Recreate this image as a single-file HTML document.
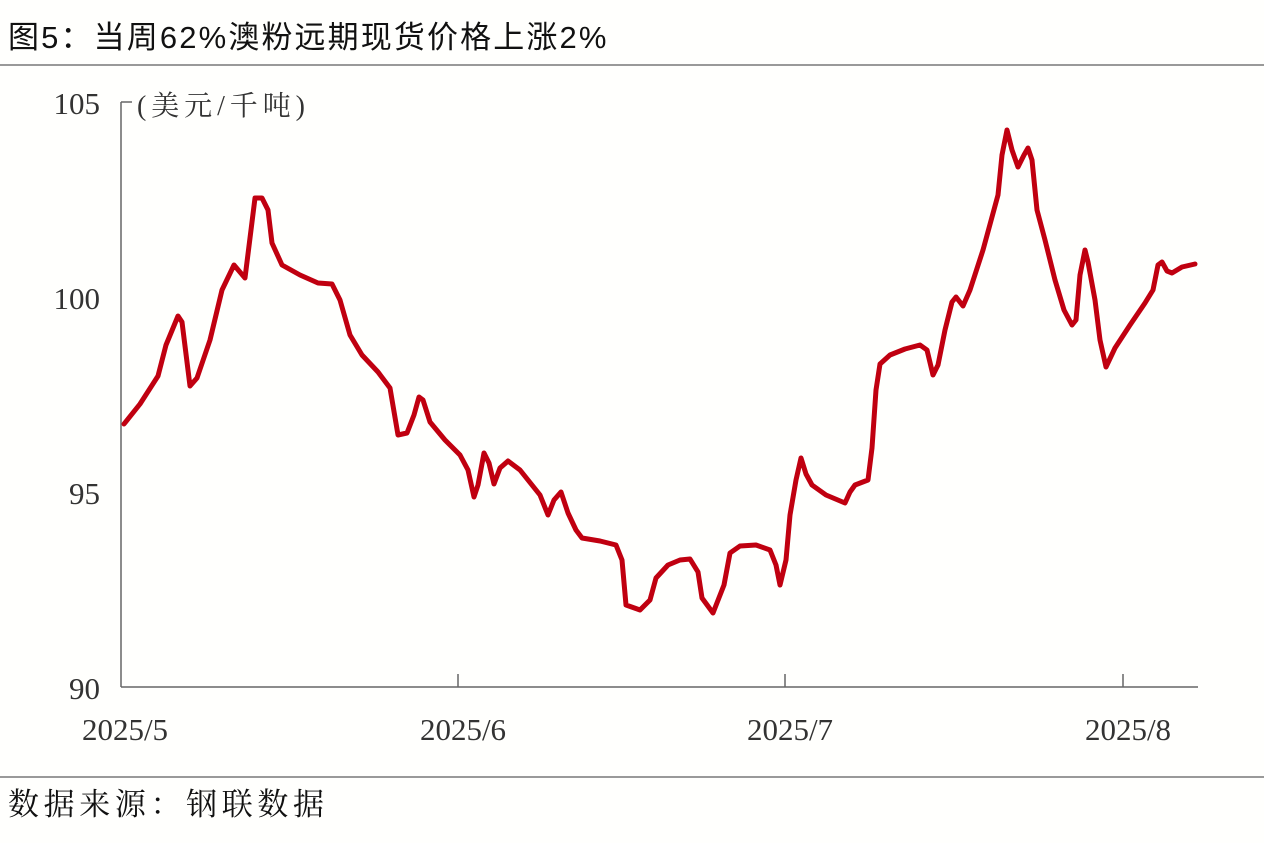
<!DOCTYPE html>
<html><head><meta charset="utf-8"><style>
body{margin:0;background:#fffffd;}
svg{display:block}
</style></head><body>
<svg width="1264" height="843" viewBox="0 0 1264 843" xmlns="http://www.w3.org/2000/svg">
<rect width="1264" height="843" fill="#fffffd"/>
<text x="8" y="48" font-family="'Liberation Sans','Noto Sans CJK SC',sans-serif" font-size="31" letter-spacing="1.5" fill="#111" textLength="600">图5：当周62%澳粉远期现货价格上涨2%</text>
<line x1="0" y1="65" x2="1264" y2="65" stroke="#999" stroke-width="2"/>
<line x1="0" y1="777" x2="1264" y2="777" stroke="#999" stroke-width="2"/>
<text x="8" y="815" font-family="'Liberation Serif','Noto Serif CJK SC',serif" font-size="31" fill="#111" textLength="316">数据来源：钢联数据</text>
<g stroke="#666" stroke-width="1.5" fill="none">
<line x1="121" y1="102" x2="121" y2="687"/>
<line x1="121" y1="102" x2="132" y2="102"/>
<line x1="121" y1="687" x2="1198" y2="687"/>
<line x1="458" y1="674" x2="458" y2="687"/>
<line x1="785" y1="674" x2="785" y2="687"/>
<line x1="1123" y1="674" x2="1123" y2="687"/>
</g>
<g font-family="'Liberation Serif',serif" font-size="31" fill="#333" text-anchor="end">
<text x="100" y="114">105</text>
<text x="100" y="309">100</text>
<text x="100" y="504">95</text>
<text x="100" y="699">90</text>
</g>
<text x="137" y="115" font-family="'Liberation Serif','Noto Serif CJK SC',serif" font-size="28" fill="#333" textLength="168">(美元/千吨)</text>
<g font-family="'Liberation Serif',serif" font-size="31" fill="#333" text-anchor="middle">
<text x="125" y="740">2025/5</text>
<text x="463" y="740">2025/6</text>
<text x="790" y="740">2025/7</text>
<text x="1128" y="740">2025/8</text>
</g>
<polyline fill="none" stroke="#c00010" stroke-width="5" stroke-linejoin="round" stroke-linecap="round" points="124,424 140,404 158,376 166,345 178,316 182,322 190,386 197,378 210,340 222,290 234,265 245,278 255,198 262,198 268,210 272,243 282,265 300,275 318,283 332,284 340,300 350,335 362,355 378,372 390,388 398,435 407,433 414,415 419,397 423,400 430,422 445,440 460,455 468,470 474,497 478,485 484,453 489,463 494,484 500,468 508,461 520,470 540,495 548,515 554,500 561,492 568,513 576,530 582,538 600,541 616,545 622,560 626,605 640,610 650,600 656,578 668,565 680,560 690,559 698,572 702,598 713,613 724,585 730,553 740,546 756,545 770,550 776,565 780,585 786,560 790,515 796,480 801,458 806,474 812,485 826,495 845,503 850,492 855,485 868,480 872,448 876,390 880,364 890,355 905,349 920,345 927,350 933,375 938,365 945,330 952,302 956,297 963,306 970,290 983,250 998,195 1002,155 1007,130 1012,150 1018,167 1024,155 1028,148 1032,160 1037,210 1045,240 1055,280 1064,310 1072,325 1076,320 1080,275 1085,250 1088,262 1095,300 1100,340 1106,367 1115,348 1130,325 1145,303 1153,290 1158,265 1162,262 1167,271 1172,273 1182,267 1195,264"/>
</svg>
</body></html>
